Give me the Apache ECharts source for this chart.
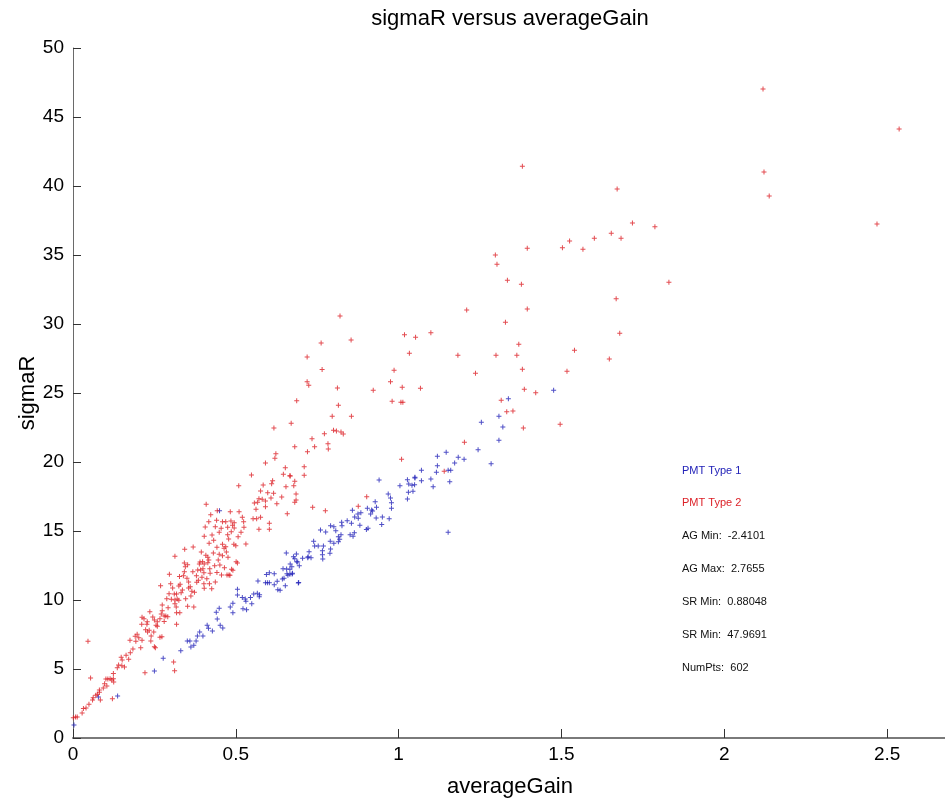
<!DOCTYPE html>
<html>
<head>
<meta charset="utf-8">
<title>sigmaR versus averageGain</title>
<script src="https://cdn.jsdelivr.net/npm/echarts@6/dist/echarts.min.js"></script>
<style>
  html, body { margin: 0; padding: 0; background: #fff; }
  #chart_main { width: 945px; height: 801px; }
</style>
</head>
<body>
<div id="chart_main"></div>
<script>
// values: [averageGain, sigmaR]
const pmtType1 = [
  [1.476,25.20],[1.337,24.59],[1.308,23.31],[1.254,22.88],[1.320,22.54],
  [1.308,21.57],[1.244,20.89],[1.284,19.88],[1.119,20.41],[1.146,20.70],[1.183,20.34],[1.201,20.20],
  [1.172,19.93],[1.119,19.73],[1.152,19.40],[1.160,19.40],[1.070,19.40],[1.116,19.25],[1.050,18.90],
  [1.050,18.84],[1.027,18.72],[1.031,18.41],[1.041,18.31],[1.049,18.36],[1.070,18.65],[1.099,18.77],
  [1.157,18.57],[1.106,18.21],[1.004,18.28],[1.030,17.80],[1.044,17.88],[0.968,17.68],[0.975,17.39],
  [1.027,17.32],[1.152,14.91],
  [0.940,18.70],[0.928,17.12],[0.978,17.05],[0.978,16.64],[0.932,16.72],[0.904,16.64],[0.917,16.52],
  [0.920,16.45],[0.858,16.50],[0.884,16.33],[0.875,16.23],[0.914,16.23],[0.931,15.94],[0.950,16.01],
  [0.876,15.92],[0.865,16.01],[0.971,15.89],[0.842,15.75],[0.825,15.63],[0.855,15.56],[0.826,15.38],
  [0.791,15.38],[0.801,15.31],[0.881,15.41],[0.948,15.48],[0.760,15.07],[0.776,14.93],[0.807,15.02],
  [0.906,15.20],[0.901,15.10],[0.823,14.73],[0.815,14.59],[0.851,14.73],[0.864,14.88],[0.860,14.62],
  [0.819,14.40],[0.815,14.23],[0.790,14.25],[0.801,14.11],[0.739,14.25],[0.742,13.91],[0.753,13.91],
  [0.769,13.91],[0.791,13.70],[0.725,13.50],[0.766,13.57],[0.766,13.28],[0.767,12.97],[0.789,13.38],
  [0.686,13.33],[0.722,13.14],[0.731,13.07],[0.721,13.07],[0.677,13.14],[0.681,12.99],[0.705,13.02],
  [0.690,12.75],[0.667,12.61],[0.672,12.41],[0.666,12.22],[0.673,11.88],[0.692,11.23],
  [0.655,13.41],[0.450,16.47],
  [0.277,5.77],[0.331,6.33],[0.351,7.03],[0.359,7.03],[0.362,6.59],[0.371,6.72],[0.378,7.03],
  [0.382,7.39],[0.389,7.68],[0.399,7.39],[0.412,8.17],[0.416,7.95],[0.428,7.75],[0.443,8.62],
  [0.452,8.17],[0.460,7.97],[0.440,9.11],[0.449,9.40],[0.483,9.49],[0.491,9.76],[0.491,9.08],
  [0.505,10.78],[0.505,10.36],[0.520,10.19],[0.529,10.07],[0.522,9.37],[0.533,9.30],[0.531,9.91],
  [0.545,10.19],[0.549,9.73],[0.555,10.43],[0.566,10.49],[0.573,10.38],[0.572,10.24],[0.568,11.38],
  [0.591,11.25],[0.597,11.25],[0.603,11.25],[0.594,11.84],[0.603,11.98],[0.618,11.91],[0.618,11.11],
  [0.627,11.35],[0.629,10.75],[0.636,10.70],[0.643,11.52],[0.648,11.57],[0.652,11.04],[0.645,12.27],
  [0.656,12.25],[0.657,11.91],[0.660,11.79],[0.666,11.86],[0.674,11.93],[0.693,11.26],[0.695,12.49],
  [0.687,12.78],
  [0.003,0.94],[0.078,2.97],[0.137,3.04],[0.250,4.86]
];

const pmtType2 = [
  [2.119,47.03],[2.537,44.13],[2.122,41.01],[2.138,39.28],[2.469,37.25],
  [1.380,41.43],[1.671,39.78],[1.718,37.32],[1.787,37.05],[1.653,36.57],[1.683,36.21],[1.601,36.21],
  [1.525,36.01],[1.503,35.53],[1.566,35.41],[1.395,35.49],[1.297,35.00],[1.302,34.33],[1.334,33.17],
  [1.377,32.88],[1.830,33.02],[1.668,31.83],[1.395,31.09],[1.328,30.12],[1.679,29.33],[1.369,28.53],
  [1.299,27.73],[1.363,27.73],[1.540,28.09],[1.647,27.46],[1.380,26.72],[1.517,26.57],[1.386,25.27],
  [1.421,25.02],[1.315,24.47],[1.332,23.65],[1.351,23.70],[1.383,22.46],[1.496,22.73],
  [1.209,31.01],[1.018,29.23],[1.052,29.04],[1.099,29.37],[1.033,27.88],[1.182,27.73],[0.986,26.64],
  [1.236,26.43],[0.975,25.82],[1.011,25.41],[1.067,25.34],[0.980,24.40],[1.007,24.33],[1.013,24.33],
  [1.202,21.43],[1.009,20.20],[1.140,19.33],
  [0.820,30.58],[0.854,28.84],[0.762,28.62],[0.719,27.60],[0.765,26.70],
  [0.815,24.11],[0.796,23.31],[0.855,23.31],[0.670,22.80],[0.772,22.05],[0.800,22.30],[0.809,22.25],
  [0.823,22.17],[0.830,22.03],[0.734,21.69],[0.681,21.11],[0.742,21.11],[0.783,21.33],[0.784,20.94],
  [0.720,20.75],[0.710,19.66],[0.710,19.04],[0.667,18.99],[0.681,18.60],[0.678,18.28],[0.685,17.68],
  [0.685,17.25],[0.681,17.08],[0.736,16.72],[0.775,16.47],[0.876,16.79],[0.902,17.49],
  [0.719,25.82],[0.724,25.56],[0.812,25.36],[0.922,25.20],[0.687,24.44],[0.617,22.46],
  [0.623,20.60],[0.620,20.27],[0.591,19.93],[0.652,19.59],[0.548,19.06],[0.646,19.11],[0.666,19.01],
  [0.613,18.65],[0.610,18.43],[0.654,18.21],[0.584,18.33],[0.509,18.28],[0.598,17.78],[0.576,17.90],
  [0.616,17.73],[0.571,17.34],[0.581,17.30],[0.557,17.03],[0.567,17.08],[0.591,17.17],[0.591,16.76],
  [0.608,17.39],[0.626,16.98],[0.641,17.46],[0.658,16.25],[0.562,16.57],[0.564,15.89],[0.553,15.89],
  [0.576,15.99],[0.603,15.56],[0.571,15.12],[0.603,15.12],[0.510,16.40],[0.520,15.99],[0.524,15.67],
  [0.525,15.27],[0.516,14.91],[0.507,14.59],[0.495,15.60],[0.485,15.72],[0.483,16.40],[0.443,16.47],
  [0.423,16.18],[0.409,16.93],[0.417,15.67],[0.441,15.77],[0.437,15.31],[0.459,15.67],[0.469,15.67],
  [0.475,15.27],[0.455,15.20],[0.490,15.41],[0.495,15.22],[0.486,14.95],[0.406,15.29],[0.403,14.62],
  [0.427,14.71],[0.432,14.33],[0.449,14.91],[0.475,14.73],[0.478,14.42],[0.459,14.04],[0.442,13.82],
  [0.494,14.04],[0.500,13.94],[0.531,14.06],[0.418,14.11],[0.464,13.75],[0.469,13.86],[0.431,13.41],
  [0.449,13.31],[0.459,13.21],[0.471,13.48],[0.476,13.09],[0.501,12.78],[0.505,12.68],[0.487,12.22],
  [0.491,12.15],[0.465,12.34],[0.446,12.90],[0.451,12.54],[0.417,12.90],[0.408,13.24],[0.414,13.09],
  [0.394,13.48],[0.369,13.84],[0.343,13.67],[0.313,13.17],[0.456,11.81],[0.473,11.81],[0.479,11.81],
  [0.482,11.79],
  [0.309,5.51],[0.312,4.88],[0.273,7.34],[0.318,8.24],
  [0.001,1.47],[0.008,1.52],[0.013,1.52],[0.028,1.81],[0.032,2.13],[0.040,2.17],[0.049,2.44],
  [0.060,2.75],[0.062,2.92],[0.070,3.09],[0.075,3.17],[0.084,2.75],[0.081,3.31],[0.081,3.48],
  [0.093,3.62],[0.097,3.93],[0.104,3.77],[0.107,4.28],[0.114,4.30],[0.119,4.20],[0.124,4.30],
  [0.125,4.06],[0.101,4.28],[0.054,4.35],[0.046,7.01],[0.121,2.85],[0.124,4.68],[0.136,5.09],
  [0.140,5.29],[0.150,5.24],[0.158,5.14],[0.148,5.85],[0.151,5.65],[0.163,5.99],[0.171,5.70],
  [0.176,6.18],[0.175,7.08],[0.184,6.45],[0.193,7.01],[0.191,7.37],[0.197,7.51],[0.202,7.27],
  [0.208,6.54],[0.212,7.08],[0.211,8.24],[0.212,8.75],[0.218,8.65],[0.223,7.85],[0.229,7.68],
  [0.227,8.24],[0.228,8.43],[0.234,7.80],[0.240,7.39],[0.239,7.03],[0.248,7.68],[0.236,9.15],
  [0.245,8.77],[0.250,8.55],[0.255,8.17],[0.259,8.09],[0.259,8.43],[0.267,8.65],[0.271,8.99],
  [0.274,9.22],[0.267,7.30],[0.250,6.62],[0.253,6.54],[0.280,8.45],[0.285,8.84],[0.280,8.84],
  [0.291,8.79],[0.292,9.44],[0.288,10.09],[0.302,10.05],[0.274,9.64],[0.295,10.46],[0.269,11.04],
  [0.296,11.86],[0.300,11.18],[0.306,10.87],[0.311,10.43],[0.318,10.43],[0.313,10.00],[0.313,9.73],
  [0.320,10.07],[0.325,9.98],[0.317,9.49],[0.318,9.08],[0.328,9.08],[0.325,11.01],[0.329,11.14],
  [0.336,10.72],[0.332,10.53],[0.327,11.71],[0.339,11.76],[0.342,12.05],[0.345,12.41],[0.352,12.56],
  [0.342,12.68],[0.350,11.57],[0.355,11.30],[0.346,10.09],[0.352,9.54],[0.355,10.87],[0.360,10.96],
  [0.365,10.63],[0.362,10.29],[0.371,9.49],[0.380,11.28],[0.385,11.43],[0.373,10.56],[0.379,11.76],
  [0.368,12.05],[0.383,12.17],[0.388,12.61],[0.390,12.75],[0.398,12.78],[0.403,12.61],[0.392,12.17],
  [0.399,12.27],[0.402,11.98],[0.396,11.64],[0.411,11.54],[0.402,11.18],[0.403,10.85],[0.419,11.18],
  [0.421,11.93],[0.420,12.27],[0.426,10.82],[0.437,11.30],[0.442,12.00],[0.435,12.49],[0.414,12.70],
  [0.221,4.73]
];

// text block on the right of the plot
const infoLines = [
  'PMT Type 1',
  'PMT Type 2',
  'AG Min:  -2.4101',
  'AG Max:  2.7655',
  'SR Min:  0.88048',
  'SR Min:  47.9691',
  'NumPts:  602'
];

const blue = '#2222b8';
const red = '#dc1f26';
const plusMark = 'path://M2,0H3V2H5V3H3V5H2V3H0V2H2Z';
const font = '"Liberation Sans", Arial, Helvetica, sans-serif';

var chart = echarts.init(document.getElementById('chart_main'));

var infoColors = [blue, red, '#111', '#111', '#111', '#111', '#111'];
var infoText = infoLines.map(function (t, i) {
  return {
    type: 'text',
    left: 682,
    top: 465 + i * 32.9,
    style: { text: t, fill: infoColors[i], font: '11px ' + font }
  };
});

var option = {
  animation: false,
  backgroundColor: '#fff',
  textStyle: { fontFamily: font },
  grid: { left: 73, right: -2, top: 48, bottom: 63, outerBoundsMode: 'none' },
  graphic: [
    {
      type: 'text',
      x: 510,
      y: 19,
      style: {
        text: 'sigmaR versus averageGain',
        fill: '#000',
        font: '22px ' + font,
        textAlign: 'center',
        textVerticalAlign: 'middle'
      }
    }
  ].concat(infoText),
  xAxis: {
    type: 'value',
    min: 0,
    max: 2.684,
    interval: 0.5,
    name: 'averageGain',
    nameLocation: 'middle',
    nameGap: 38,
    nameMoveOverlap: false,
    nameTextStyle: { fontSize: 22, color: '#000' },
    axisLine: { lineStyle: { color: '#7a7a7a', width: 2 } },
    axisTick: { inside: true, length: 9, lineStyle: { color: '#333', width: 1 } },
    axisLabel: { color: '#000', fontSize: 19, margin: 7, showMaxLabel: false },
    splitLine: { show: false }
  },
  yAxis: {
    type: 'value',
    min: 0,
    max: 50,
    interval: 5,
    name: 'sigmaR',
    nameLocation: 'middle',
    nameGap: 34,
    nameMoveOverlap: false,
    nameTextStyle: { fontSize: 22, color: '#000' },
    axisLine: { lineStyle: { color: '#6a6a6a', width: 1 } },
    axisTick: { inside: true, length: 8, lineStyle: { color: '#333', width: 1 } },
    axisLabel: { color: '#000', fontSize: 19, margin: 9 },
    splitLine: { show: false }
  },
  series: [
    {
      name: 'PMT Type 1',
      type: 'scatter',
      symbol: plusMark,
      symbolSize: 5,
      itemStyle: { color: blue },
      data: pmtType1
    },
    {
      name: 'PMT Type 2',
      type: 'scatter',
      symbol: plusMark,
      symbolSize: 5,
      itemStyle: { color: red },
      data: pmtType2
    }
  ]
};

chart.setOption(option);
</script>
</body>
</html>
